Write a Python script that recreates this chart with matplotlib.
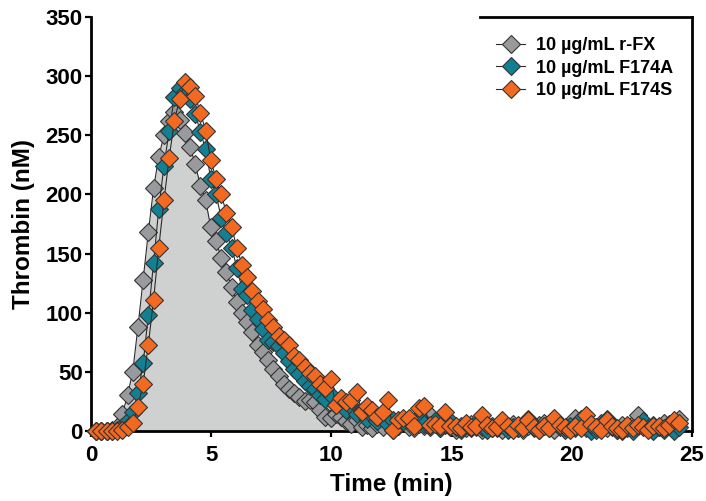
'''Thrombin generation curves.'''
import matplotlib as mpl
mpl.use('Agg')
import matplotlib.pyplot as plt
import numpy as np

# sampling grid: one reading every 13 s (in minutes)
time_min = np.arange(1, 114) * 13 / 60

r_fx = [0, 0, 0, 1, 3, 14, 30, 50, 88, 128,
        168, 205, 232, 250, 262, 270, 263, 252, 240, 226,
        207, 195, 172, 161, 146, 134, 122, 109, 100, 92,
        84, 73, 67, 60, 52, 46, 40, 35, 32, 29,
        25, 26, 24, 18, 12, 11, 14, 12, 8, 6,
        9, 3, 5, 2, 6, 3, 7, 1, 4, 8,
        3, 2, 6, 4, 13, 7, 2, 5, 3, 1,
        4, 2, 6, 3, 1, 5, 2, 4, 1, 3,
        6, 2, 1, 4, 2, 5, 7, 3, 1, 5,
        2, 6, 11, 4, 2, 5, 3, 7, 2, 4,
        1, 5, 3, 6, 13, 4, 2, 5, 3, 7,
        4, 6, 10]

f174a = [0, 0, 0, 0, 1, 3, 8, 16, 32, 57,
         98, 142, 188, 224, 254, 282, 290, 287, 281, 268,
         253, 238, 213, 200, 180, 167, 155, 138, 120, 115,
         102, 95, 86, 77, 75, 72, 66, 59, 52, 48,
         42, 38, 35, 30, 27, 30, 22, 24, 18, 21,
         14, 17, 10, 13, 8, 12, 6, 9, 4, 8,
         10, 5, 12, 6, 3, 8, 2, 6, 8, 3,
         1, 5, 2, 7, 3, 1, 4, 2, 6, 1,
         3, 2, 5, 10, 3, 1, 4, 2, 9, 3,
         1, 4, 2, 10, 5, 0, 1, 4, 10, 3,
         1, 0, 2, 0, 4, 8, 2, 0, 3, 1,
         6, 0, 3]

f174s = [0, 0, 0, 0, 0, 1, 3, 7, 20, 40,
         73, 111, 155, 195, 231, 262, 281, 295, 291, 283,
         269, 254, 229, 213, 200, 184, 172, 155, 140, 130,
         118, 110, 103, 94, 88, 80, 77, 73, 63, 60,
         54, 49, 46, 40, 36, 44, 22, 28, 24, 26,
         33, 16, 21, 18, 12, 16, 26, 1, 9, 11,
         11, 4, 19, 21, 5, 6, 4, 16, 4, 4,
         2, 7, 3, 4, 13, 5, 2, 3, 9, 4,
         1, 5, 2, 9, 3, 1, 4, 2, 11, 5,
         3, 1, 4, 2, 13, 6, 3, 1, 9, 4,
         2, 1, 5, 2, 5, 3, 1, 4, 4, 2,
         5, 9, 7]

labels = ['10 µg/mL r-FX', '10 µg/mL F174A', '10 µg/mL F174S']
colors = ['#999a9e', '#137f92', '#f26a22']

plt.rcParams['font.family'] = ['Liberation Sans', 'DejaVu Sans']
plt.rcParams['font.weight'] = 'bold'

fig = plt.figure(figsize=(7.06, 5.01), dpi=100)
fig.subplots_adjust(left=0.129, right=0.980, bottom=0.140, top=0.966)
ax = plt.axes()

ax.fill_between(time_min, r_fx, 0, color='#cfd0d0', lw=0, zorder=1)
for i, series in enumerate([r_fx, f174a, f174s]):
    ax.plot(time_min, series, color='#2b2b2b', lw=0.8, marker='D',
            markersize=9.3, markerfacecolor=colors[i],
            markeredgecolor='#333333', markeredgewidth=0.8,
            label=labels[i], clip_on=False, zorder=3 + i)

ax.set_xlim(0, 25)
ax.set_ylim(0, 350)
ax.set_xticks(range(0, 26, 5))
ax.set_yticks(range(0, 351, 50))
ax.tick_params(axis='both', labelsize=16, length=4, width=1.6,
               direction='out', pad=2)
ax.tick_params(axis='x', pad=6)
for lab in ax.get_xticklabels() + ax.get_yticklabels():
    lab.set_fontweight('bold')

for side in ['left', 'bottom', 'right', 'top']:
    ax.spines[side].set_linewidth(2.0)
ax.spines['top'].set_bounds(16.2, 25)

ax.set_xlabel('Time (min)', fontsize=17.5, fontweight='bold', labelpad=5)
ax.set_ylabel('Thrombin (nM)', fontsize=17.5, fontweight='bold', labelpad=8)

leg = ax.legend(loc='upper right', bbox_to_anchor=(0.99, 0.982),
                frameon=False, fontsize=13, handlelength=1.6,
                handletextpad=0.6, labelspacing=0.3, borderaxespad=0.3)
for t in leg.get_texts():
    t.set_fontweight('bold')

plt.savefig('out.png', dpi=100)
